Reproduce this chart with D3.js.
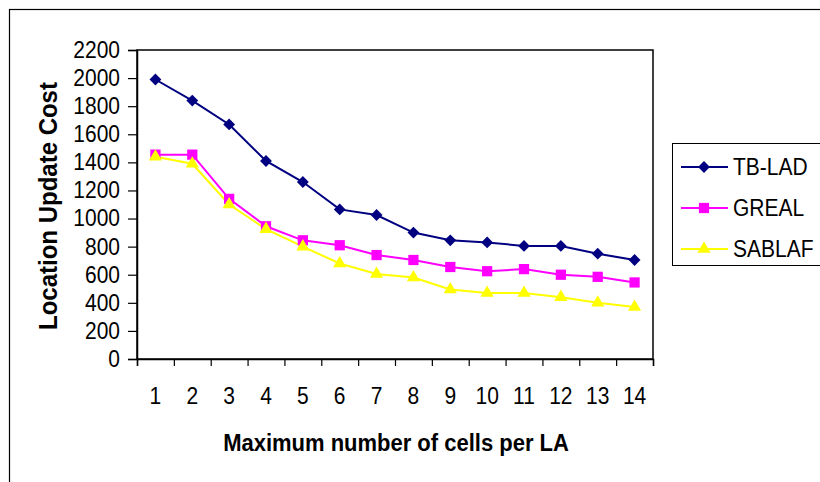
<!DOCTYPE html>
<html>
<head>
<meta charset="utf-8">
<script src="https://cdn.jsdelivr.net/npm/d3@7"></script>
<style>
  html, body { margin: 0; padding: 0; background: #fff; }
  svg { display: block; }
  text { font-family: "Liberation Sans", Arial, sans-serif; fill: #000; }
</style>
</head>
<body>
<svg id="chart" width="820" height="482"></svg>
<script>
const categories = ["1","2","3","4","5","6","7","8","9","10","11","12","13","14"];
const tbLad = [1990, 1840, 1670, 1410, 1260, 1065, 1025, 900, 845, 830, 805, 805, 750, 705];
const greal = [1455, 1455, 1140, 945, 845, 810, 740, 705, 655, 625, 640, 600, 585, 545];
const sablaf = [1440, 1390, 1100, 925, 800, 680, 605, 580, 495, 470, 470, 440, 400, 370];
const yTicks = [0, 200, 400, 600, 800, 1000, 1200, 1400, 1600, 1800, 2000, 2200];
const seriesNames = ["TB-LAD", "GREAL", "SABLAF"];

const series = [
  { name: seriesNames[0], values: tbLad, color: "#000080", marker: d3.symbolSquare, size: 70, rot: 45 },
  { name: seriesNames[1], values: greal, color: "#FF00FF", marker: d3.symbolSquare, size: 105, rot: 0 },
  { name: seriesNames[2], values: sablaf, color: "#FFFF00", marker: d3.symbolTriangle, size: 75, rot: 0 }
];

const svg = d3.select("#chart");
const stretch = 1.1;

// outer chart border (extends beyond the visible frame on right/bottom)
svg.append("rect")
  .attr("x", 9.5).attr("y", 9.5)
  .attr("width", 900).attr("height", 600)
  .attr("fill", "none").attr("stroke", "#000").attr("stroke-width", 1.2);

const plot = { left: 137, right: 653, top: 50, bottom: 359 };

const x = d3.scaleBand().domain(categories).range([plot.left, plot.right]).paddingInner(0).paddingOuter(0);
const xEdges = d3.scaleLinear().domain([0, categories.length]).range([plot.left, plot.right]);
const y = d3.scaleLinear().domain([0, 2200]).range([plot.bottom, plot.top]);

// plot area frame
svg.append("rect")
  .attr("x", plot.left).attr("y", plot.top)
  .attr("width", plot.right - plot.left).attr("height", plot.bottom - plot.top)
  .attr("fill", "none").attr("stroke", "#000").attr("stroke-width", 1.5);

// y axis
const yAxis = svg.append("g")
  .attr("transform", `translate(${plot.left},0)`)
  .call(d3.axisLeft(y).tickValues(yTicks).tickSize(9).tickPadding(8).tickFormat(d3.format("d")));
yAxis.select(".domain").attr("stroke", "#000").attr("stroke-width", 1.5);
yAxis.selectAll(".tick line").attr("stroke", "#000").attr("stroke-width", 1.2);
yAxis.selectAll(".tick text")
  .attr("font-family", "Liberation Sans, Arial, sans-serif")
  .attr("font-size", 21).attr("fill", "#000")
  .attr("transform", `scale(1,${stretch})`);

// x axis tick marks at category boundaries
const xTickAxis = svg.append("g")
  .attr("transform", `translate(0,${plot.bottom})`)
  .call(d3.axisBottom(xEdges).tickValues(d3.range(0, categories.length + 1)).tickSize(7).tickFormat(""));
xTickAxis.select(".domain").attr("stroke", "#000").attr("stroke-width", 1.5);
xTickAxis.selectAll(".tick line").attr("stroke", "#000").attr("stroke-width", 1.2);

// x axis labels at category centres
const xLabelAxis = svg.append("g")
  .attr("transform", `translate(0,${plot.bottom})`)
  .call(d3.axisBottom(x).tickSize(0).tickPadding(26));
xLabelAxis.select(".domain").remove();
xLabelAxis.selectAll(".tick text")
  .attr("font-family", "Liberation Sans, Arial, sans-serif")
  .attr("font-size", 21).attr("fill", "#000")
  .attr("transform", `scale(1,${stretch})`);

// axis titles
svg.append("text")
  .attr("transform", `translate(${(plot.left + plot.right) / 2 + 1},451) scale(1,${stretch})`)
  .attr("text-anchor", "middle")
  .attr("font-size", 22).attr("font-weight", "bold")
  .text("Maximum number of cells per LA");

svg.append("text")
  .attr("transform", `translate(57,206) rotate(-90) scale(1,${stretch})`)
  .attr("text-anchor", "middle")
  .attr("font-size", 24).attr("font-weight", "bold")
  .text("Location Update Cost");

// series
const line = d3.line()
  .x((d, i) => x(categories[i]) + x.bandwidth() / 2)
  .y(d => y(d));

series.forEach(s => {
  svg.append("path")
    .datum(s.values)
    .attr("d", line)
    .attr("fill", "none")
    .attr("stroke", s.color)
    .attr("stroke-width", 2);
});
series.forEach(s => {
  svg.append("g").selectAll("path")
    .data(s.values)
    .join("path")
    .attr("transform", (d, i) => `translate(${x(categories[i]) + x.bandwidth() / 2},${y(d)}) rotate(${s.rot})`)
    .attr("d", d3.symbol().type(s.marker).size(s.size))
    .attr("fill", s.color);
});

// legend
const legend = svg.append("g");
legend.append("rect")
  .attr("x", 672.5).attr("y", 143.5)
  .attr("width", 200).attr("height", 122)
  .attr("fill", "#fff").attr("stroke", "#000").attr("stroke-width", 1);

const legendY = d3.scalePoint().domain(seriesNames).range([167, 249]);
series.forEach(s => {
  const ly = legendY(s.name);
  legend.append("line")
    .attr("x1", 681).attr("x2", 728)
    .attr("y1", ly).attr("y2", ly)
    .attr("stroke", s.color).attr("stroke-width", 2);
  legend.append("path")
    .attr("transform", `translate(704,${ly}) rotate(${s.rot})`)
    .attr("d", d3.symbol().type(s.marker).size(s.size))
    .attr("fill", s.color);
  legend.append("text")
    .attr("transform", `translate(733,${ly + 8}) scale(1,${stretch})`)
    .attr("font-size", 21)
    .text(s.name);
});
</script>
</body>
</html>
